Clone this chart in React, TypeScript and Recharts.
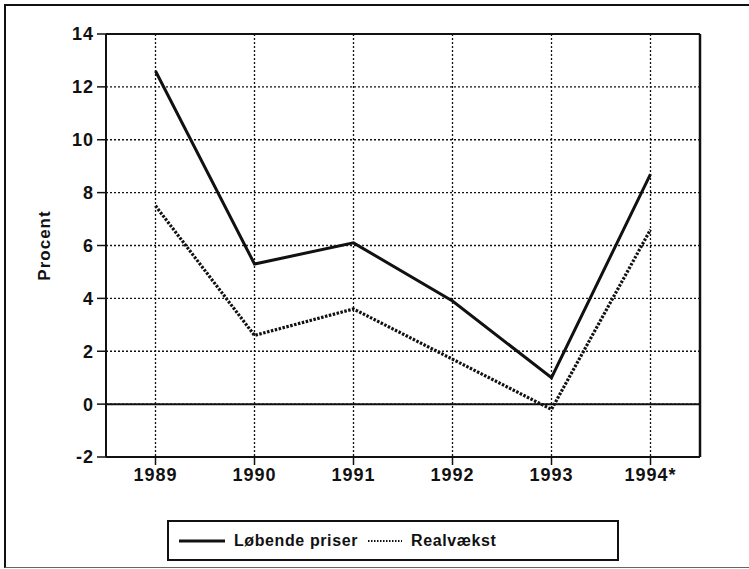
import React from "react";
import {
  LineChart,
  Line,
  XAxis,
  YAxis,
  CartesianGrid,
  ReferenceLine,
  Legend,
} from "recharts";

const years = ["1989", "1990", "1991", "1992", "1993", "1994*"];
const loebendePriser = [12.6, 5.3, 6.1, 3.9, 1.0, 8.7];
const realvaekst = [7.5, 2.6, 3.6, 1.7, -0.2, 6.6];
const yTicks = [-2, 0, 2, 4, 6, 8, 10, 12, 14];

const FONT = "'Liberation Sans', Arial, sans-serif";
const INK = "#111";

// custom legend in a framed box, like the original
function LegendBox(props: any) {
  const items = props.payload || [];
  return (
    <div
      style={{
        border: `2px solid ${INK}`,
        height: 41,
        boxSizing: "border-box",
        display: "flex",
        alignItems: "center",
        justifyContent: "flex-start",
        paddingLeft: 10,
        fontFamily: FONT,
        fontWeight: 700,
        fontSize: 16,
        letterSpacing: 0.6,
        color: INK,
      }}
    >
      {items.map((it: any, i: number) => (
        <span key={i} style={{ display: "flex", alignItems: "center", marginRight: 10 }}>
          <svg width={i === 0 ? 46 : 34} height={6} style={{ marginRight: 9 }}>
            <line
              x1={0}
              y1={3}
              x2={i === 0 ? 46 : 34}
              y2={3}
              stroke={INK}
              strokeWidth={i === 0 ? 3 : 2}
              strokeDasharray={i === 0 ? undefined : "1.5 1.5"}
            />
          </svg>
          {it.value}
        </span>
      ))}
    </div>
  );
}

export default function App() {
  const data = years.map((y, i) => ({
    year: y,
    loebende: loebendePriser[i],
    real: realvaekst[i],
  }));

  const tickStyle = { fill: INK, fontSize: 18, fontWeight: 700, fontFamily: FONT, letterSpacing: 1 };

  return (
    <div style={{ position: "relative", width: 749, height: 569, background: "#fff", overflow: "hidden" }}>
      <style>{"body{margin:0}"}</style>
      <div
        style={{
          position: "absolute",
          left: 4,
          top: 4,
          width: 745,
          height: 564,
          borderLeft: `2px solid ${INK}`,
          borderTop: `2px solid ${INK}`,
          borderBottom: "1px solid #666",
          boxSizing: "border-box",
        }}
      />
      <LineChart
        width={749}
        height={569}
        data={data}
        margin={{ top: 34, right: 48, bottom: 0, left: 0 }}
      >
        <CartesianGrid stroke={INK} strokeDasharray="2 2" strokeWidth={1.3} />
        <XAxis
          dataKey="year"
          height={70}
          padding={{ left: 49.5, right: 49.5 }}
          axisLine={{ stroke: INK, strokeWidth: 2 }}
          tickLine={{ stroke: INK, strokeWidth: 1.5 }}
          tickSize={8}
          tickMargin={3}
          tick={tickStyle}
          interval={0}
        />
        <YAxis
          width={106}
          domain={[-2, 14]}
          ticks={yTicks}
          axisLine={{ stroke: INK, strokeWidth: 2 }}
          tickLine={{ stroke: INK, strokeWidth: 1.5 }}
          tickSize={9}
          tickMargin={3}
          tick={tickStyle}
          interval={0}
          label={{
            value: "Procent",
            angle: -90,
            position: "insideLeft",
            offset: 44,
            style: { fill: INK, fontSize: 17, fontWeight: 700, fontFamily: FONT, letterSpacing: 1, textAnchor: "middle" },
          }}
        />
        {/* right-hand axis only draws the frame edge; same domain as the left one */}
        <YAxis
          yAxisId="r"
          orientation="right"
          width={1}
          domain={[-2, 14]}
          ticks={yTicks}
          tick={false}
          tickLine={false}
          axisLine={{ stroke: INK, strokeWidth: 2.5 }}
        />
        <ReferenceLine y={14} stroke={INK} strokeWidth={2} />
        <ReferenceLine y={0} stroke={INK} strokeWidth={2} />
        <Legend
          content={<LegendBox />}
          wrapperStyle={{ position: "absolute", left: 167, top: 520, width: 452, height: 42 }}
        />
        <Line
          name="Løbende priser"
          dataKey="loebende"
          stroke={INK}
          strokeWidth={3}
          dot={false}
          activeDot={false}
          isAnimationActive={false}
        />
        <Line
          name="Realvækst"
          dataKey="real"
          yAxisId="r"
          stroke={INK}
          strokeWidth={3.2}
          strokeDasharray="2.5 1.5"
          dot={false}
          activeDot={false}
          isAnimationActive={false}
        />
      </LineChart>
    </div>
  );
}
